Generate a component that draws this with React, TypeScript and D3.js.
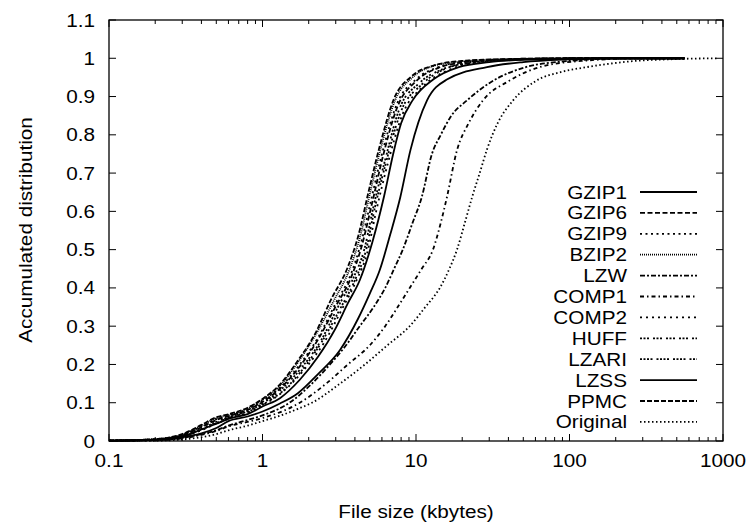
import React from 'react';
import * as d3 from 'd3';

const W = 749;
const H = 525;

const seriesNames = ["GZIP1", "GZIP6", "GZIP9", "BZIP2", "LZW", "COMP1", "COMP2", "HUFF", "LZARI", "LZSS", "PPMC", "Original"];

const xTickValues = [0.1, 1, 10, 100, 1000];
const xTickLabels = ["0.1", "1", "10", "100", "1000"];
const yTickValues = [0, 0.1, 0.2, 0.3, 0.4, 0.5, 0.6, 0.7, 0.8, 0.9, 1, 1.1];
const yTickLabels = ["0", "0.1", "0.2", "0.3", "0.4", "0.5", "0.6", "0.7", "0.8", "0.9", "1", "1.1"];

// [file size (kbytes), accumulated fraction]
const gzip1: [number, number][] = [[0.1,0.001],[0.2,0.003],[0.3,0.012],[0.4,0.03],[0.5,0.045],[0.6,0.058],[0.8,0.07],[1,0.09],[1.3,0.112],[1.75,0.16],[2.3,0.22],[3,0.295],[3.6,0.36],[4.3,0.42],[5.2,0.52],[6.2,0.64],[7.1,0.75],[8,0.83],[9.5,0.89],[13,0.945],[19,0.977],[30,0.99],[50,0.996],[150,1],[560,1]];
const gzip6: [number, number][] = [[0.1,0.001],[0.2,0.004],[0.3,0.015],[0.4,0.036],[0.5,0.055],[0.6,0.065],[0.8,0.081],[1,0.102],[1.3,0.137],[1.75,0.195],[2.3,0.265],[3,0.352],[3.8,0.43],[4.4,0.505],[5.2,0.625],[6.1,0.745],[7.6,0.875],[10,0.94],[14,0.975],[20,0.989],[40,0.997],[100,0.9995],[200,1],[560,1]];
const gzip9: [number, number][] = [[0.1,0.001],[0.2,0.004],[0.3,0.016],[0.4,0.038],[0.5,0.057],[0.6,0.066],[0.8,0.083],[1,0.105],[1.3,0.14],[1.75,0.2],[2.3,0.27],[3,0.36],[3.8,0.44],[4.4,0.52],[5.1,0.63],[6,0.75],[7.5,0.88],[10,0.945],[14,0.977],[20,0.99],[40,0.997],[100,0.9995],[200,1],[560,1]];
const bzip2: [number, number][] = [[0.1,0.001],[0.2,0.005],[0.3,0.017],[0.4,0.04],[0.5,0.06],[0.6,0.068],[0.8,0.085],[1,0.108],[1.3,0.145],[1.7,0.205],[2.2,0.275],[2.9,0.365],[3.7,0.45],[4.3,0.53],[5,0.645],[5.9,0.765],[7.3,0.89],[9.5,0.95],[13,0.98],[20,0.992],[40,0.998],[100,1],[560,1]];
const lzw: [number, number][] = [[0.1,0.001],[0.2,0.002],[0.3,0.008],[0.4,0.018],[0.5,0.028],[0.6,0.04],[0.8,0.055],[1,0.067],[1.5,0.1],[2.1,0.15],[2.75,0.2],[3.5,0.25],[4.3,0.3],[5.3,0.35],[6.3,0.4],[7.2,0.45],[8.2,0.5],[9.5,0.57],[10.9,0.637],[12.7,0.75],[14.5,0.8],[17,0.85],[21.5,0.89],[30,0.935],[52,0.977],[100,0.993],[250,1],[560,1]];
const comp1: [number, number][] = [[0.1,0.001],[0.2,0.002],[0.3,0.007],[0.4,0.016],[0.5,0.026],[0.6,0.038],[0.8,0.05],[1,0.06],[1.75,0.1],[2.6,0.15],[3.6,0.2],[5,0.25],[6.3,0.3],[7.6,0.35],[9.1,0.4],[10.9,0.45],[12.9,0.5],[14.5,0.57],[15.9,0.637],[18.5,0.76],[22,0.83],[27.3,0.89],[40,0.94],[64,0.977],[120,0.993],[300,1],[560,1]];
const comp2: [number, number][] = [[0.1,0.001],[0.2,0.003],[0.3,0.011],[0.4,0.028],[0.5,0.045],[0.6,0.058],[0.8,0.073],[1,0.093],[1.35,0.128],[1.9,0.19],[2.5,0.255],[3.3,0.345],[4.1,0.42],[4.8,0.49],[5.5,0.6],[6.5,0.72],[8.2,0.855],[11,0.925],[16,0.968],[23,0.986],[40,0.996],[100,0.9995],[200,1],[560,1]];
const huff: [number, number][] = [[0.1,0.001],[0.2,0.003],[0.3,0.012],[0.4,0.03],[0.5,0.047],[0.6,0.06],[0.8,0.075],[1,0.095],[1.35,0.13],[1.85,0.19],[2.4,0.255],[3.2,0.345],[4,0.42],[4.7,0.495],[5.4,0.61],[6.4,0.73],[8,0.862],[10.8,0.93],[15,0.97],[22,0.987],[40,0.996],[100,0.9995],[200,1],[560,1]];
const lzari: [number, number][] = [[0.1,0.001],[0.2,0.003],[0.3,0.013],[0.4,0.032],[0.5,0.05],[0.6,0.062],[0.8,0.078],[1,0.098],[1.3,0.132],[1.8,0.192],[2.4,0.262],[3.1,0.35],[3.9,0.425],[4.6,0.5],[5.3,0.615],[6.3,0.735],[7.8,0.868],[10.5,0.935],[15,0.972],[22,0.988],[40,0.996],[100,0.9995],[200,1],[560,1]];
const lzss: [number, number][] = [[0.1,0.001],[0.2,0.003],[0.3,0.01],[0.4,0.02],[0.5,0.034],[0.6,0.052],[0.8,0.064],[1,0.077],[1.3,0.098],[1.7,0.125],[2.3,0.175],[3.2,0.238],[4.2,0.32],[5,0.385],[5.8,0.446],[6.8,0.54],[7.9,0.637],[9.2,0.76],[11.8,0.89],[16,0.945],[29,0.977],[50,0.99],[100,0.997],[200,1],[560,1]];
const ppmc: [number, number][] = [[0.1,0.001],[0.2,0.005],[0.3,0.018],[0.4,0.042],[0.5,0.062],[0.6,0.07],[0.8,0.087],[1,0.11],[1.3,0.148],[1.7,0.21],[2.2,0.28],[2.8,0.37],[3.6,0.455],[4.2,0.535],[4.9,0.65],[5.8,0.77],[7.2,0.895],[9.3,0.952],[13,0.981],[20,0.993],[40,0.998],[100,1],[560,1]];
const original: [number, number][] = [[0.1,0.0005],[0.2,0.001],[0.3,0.004],[0.4,0.01],[0.5,0.018],[0.6,0.028],[0.8,0.04],[1,0.052],[1.3,0.066],[1.7,0.084],[2.1,0.1],[3.2,0.15],[4.65,0.2],[6.5,0.25],[9.1,0.3],[11.5,0.35],[14.3,0.4],[16.5,0.45],[18.5,0.5],[20.8,0.57],[23.2,0.637],[26,0.7],[28.9,0.76],[34,0.83],[42.9,0.89],[60,0.94],[90,0.965],[130,0.977],[250,0.992],[500,0.998],[915,1]];

const seriesData = [gzip1, gzip6, gzip9, bzip2, lzw, comp1, comp2, huff, lzari, lzss, ppmc, original];
const seriesDash = ["", "5,2.5", "2,3.5", "1,1", "5,2,2,2", "4,3,1.5,3", "2,4", "2,1.5,2,1.5,2,4", "2,1.5,2,1.5,2,1.5,2,4", "", "5,2", "1.5,2.5"];

const FONT = "'Liberation Sans', Arial, Helvetica, sans-serif";
const FS = 18.5;
const SX = 1.12;

function Label(props: { x: number; y: number; text: string; anchor?: string; rotate?: number }) {
  const { x, y, text, anchor = 'middle', rotate = 0 } = props;
  return (
    <g transform={`translate(${x},${y}) rotate(${rotate}) scale(${SX},1)`}>
      <text x={0} y={0} textAnchor={anchor as any} fontFamily={FONT} fontSize={FS} fill="#000">{text}</text>
    </g>
  );
}

export default function App() {
  const left = 109, right = 723, top = 20, bottom = 441;
  const x = d3.scaleLog().domain([0.1, 1000]).range([left, right]);
  const y = d3.scaleLinear().domain([0, 1.1]).range([bottom, top]);
  const line = d3.line<[number, number]>()
    .x(d => x(d[0]))
    .y(d => y(d[1]))
    .curve(d3.curveMonotoneX);

  const minorX: number[] = [];
  [0.1, 1, 10, 100].forEach(d => { for (let k = 2; k <= 9; k++) minorX.push(d * k); });

  const legendTop = 192;
  const legendStep = 20.9;

  return (
    <svg width={W} height={H} style={{ position: 'absolute', left: 0, top: 0, background: '#fff' }}>
      <rect x={0} y={0} width={W} height={H} fill="#fff" />
      <g fill="none" stroke="#000" strokeWidth={1.8}>
        {seriesData.map((s, i) => (
          <path key={seriesNames[i]} d={line(s) || ''} strokeDasharray={seriesDash[i] || undefined} />
        ))}
      </g>
      <g stroke="#000" strokeWidth={1}>
        {yTickValues.map(v => (
          <g key={'yt' + v}>
            <line x1={left} x2={left + 7} y1={y(v)} y2={y(v)} />
            <line x1={right} x2={right - 7} y1={y(v)} y2={y(v)} />
          </g>
        ))}
        {xTickValues.map(v => (
          <g key={'xt' + v}>
            <line x1={x(v)} x2={x(v)} y1={bottom} y2={bottom - 7} />
            <line x1={x(v)} x2={x(v)} y1={top} y2={top + 7} />
          </g>
        ))}
        {minorX.map(v => (
          <g key={'xm' + v}>
            <line x1={x(v)} x2={x(v)} y1={bottom} y2={bottom - 4} />
            <line x1={x(v)} x2={x(v)} y1={top} y2={top + 4} />
          </g>
        ))}
      </g>
      <rect x={left} y={top} width={right - left} height={bottom - top} fill="none" stroke="#000" strokeWidth={1.3} />
      {yTickValues.map((v, i) => (
        <Label key={'yl' + v} x={95} y={y(v) + 6.5} text={yTickLabels[i]} anchor="end" />
      ))}
      {xTickValues.map((v, i) => (
        <Label key={'xl' + v} x={x(v)} y={467} text={xTickLabels[i]} anchor="middle" />
      ))}
      <Label x={416} y={518} text="File size (kbytes)" anchor="middle" />
      <Label x={32} y={230} text="Accumulated distribution" anchor="middle" rotate={-90} />
      {seriesNames.map((n, i) => {
        const ly = legendTop + i * legendStep;
        return (
          <g key={'lg' + n}>
            <Label x={627} y={ly + 6.5} text={n} anchor="end" />
            <line x1={640} x2={697} y1={ly} y2={ly} stroke="#000" strokeWidth={1.8} strokeDasharray={seriesDash[i] || undefined} />
          </g>
        );
      })}
    </svg>
  );
}
